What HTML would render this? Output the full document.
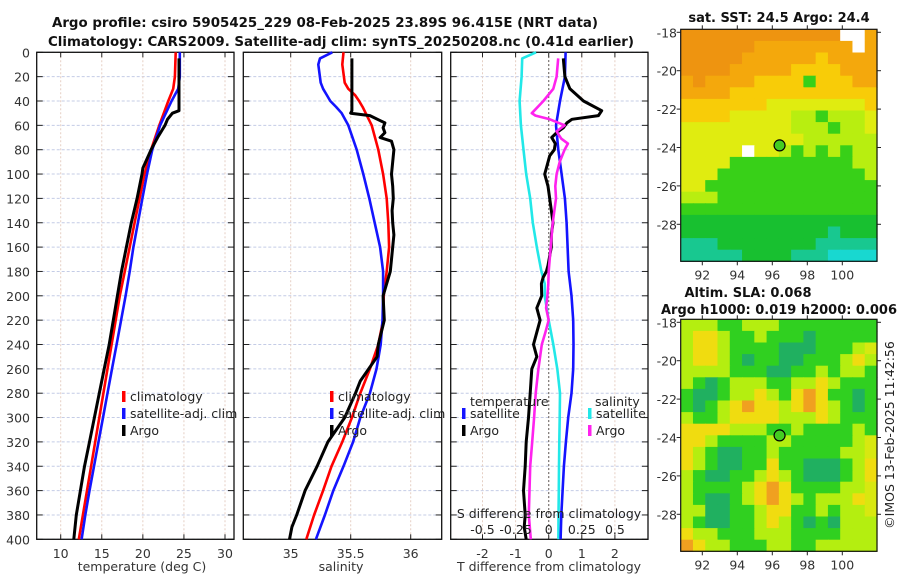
<!DOCTYPE html>
<html><head><meta charset="utf-8"><style>
html,body{margin:0;padding:0;background:#fff;}
svg{display:block;font-family:"DejaVu Sans","Liberation Sans",sans-serif;}
</style></head><body>
<svg id="fig" width="900" height="580" viewBox="0 0 900 580" xmlns="http://www.w3.org/2000/svg">
<g font-weight="bold" font-size="13" text-anchor="middle" fill="#111">
<text x="325" y="27" textLength="546" lengthAdjust="spacingAndGlyphs">Argo profile: csiro 5905425_229 08-Feb-2025 23.89S 96.415E (NRT data)</text>
<text x="341" y="46" textLength="586" lengthAdjust="spacingAndGlyphs">Climatology: CARS2009. Satellite-adj clim: synTS_20250208.nc (0.41d earlier)</text>
</g>
<g id="layer"></g>
</svg>
<script>
// ---------- DATA ----------
const depthTicks=[0,20,40,60,80,100,120,140,160,180,200,220,240,260,280,300,320,340,360,380,400];
const tTicks=[10,15,20,25,30];
const sTicks=[35,35.5,36];
const dTicks=[-2,-1,0,1,2];
const dTickLabels=['-2','-1','0','1','2'];
const sdTicks=[-0.5,-0.25,0,0.25,0.5];
const sdTickLabels=['-0.5','-0.25','0','0.25','0.5'];

const climDepth=[0,20,30,40,60,80,100,120,140,160,180,200,220,240,260,280,300,320,340,360,380,400];
const climTemp=[24.0,23.9,23.7,23.1,22.0,21.0,20.2,19.6,19.0,18.4,17.8,17.2,16.7,16.2,15.7,15.2,14.7,14.2,13.7,13.2,12.7,12.2];
const satTemp=[24.5,24.5,24.3,23.5,22.1,21.15,20.5,19.95,19.4,18.85,18.4,17.9,17.35,16.8,16.25,15.7,15.15,14.6,14.05,13.5,13.0,12.55];
const argoTDepth=[5,48,50,55,60,70,80,95,100,120,140,160,180,200,220,240,260,280,300,320,340,360,380,400];
const argoTemp=[24.4,24.4,23.6,23.0,22.7,21.8,21.0,20.0,19.9,19.3,18.6,18.0,17.4,16.9,16.4,15.9,15.3,14.7,14.1,13.5,12.9,12.4,11.9,11.6];

const salDepth=[0,5,10,25,30,35,40,45,50,60,80,100,120,140,160,180,200,220,240,260,280,300,320,340,360,380,400];
const climSal=[35.44,35.435,35.43,35.45,35.48,35.535,35.57,35.6,35.625,35.675,35.73,35.77,35.8,35.813,35.82,35.80,35.775,35.77,35.73,35.66,35.58,35.51,35.43,35.34,35.27,35.195,35.13];
const satSal=[35.347,35.244,35.23,35.25,35.27,35.30,35.33,35.38,35.425,35.48,35.55,35.605,35.655,35.70,35.745,35.77,35.77,35.765,35.75,35.715,35.66,35.58,35.52,35.44,35.355,35.285,35.21];
const argoSDepth=[5,48,50,52,58,62,66,70,73,80,90,100,110,120,130,140,150,160,170,180,190,200,220,240,250,260,270,280,300,320,340,360,380,390,400];
const argoSal=[35.51,35.51,35.50,35.66,35.785,35.77,35.785,35.745,35.84,35.86,35.85,35.84,35.85,35.855,35.845,35.85,35.86,35.85,35.84,35.83,35.80,35.77,35.78,35.73,35.72,35.65,35.58,35.54,35.45,35.31,35.22,35.12,35.05,35.01,34.99];

const tdSatDepth=[0,20,40,60,80,100,120,140,160,180,200,220,240,260,280,300,320,340,360,380,400];
const tdSat=[0.51,0.49,0.34,0.22,0.29,0.39,0.49,0.54,0.57,0.6,0.69,0.74,0.75,0.74,0.69,0.59,0.52,0.46,0.42,0.38,0.36];
const tdArgoDepth=[5,20,30,40,48,52,55,58,62,66,70,75,80,85,95,100,110,120,140,150,160,175,180,185,190,200,210,220,230,240,250,260,280,300,320,340,360,380,390,400];
const tdArgo=[0.44,0.49,0.64,1.05,1.6,1.5,0.7,0.55,0.44,0.24,0.09,0.2,0.17,0.03,-0.07,-0.12,-0.02,0.03,0.13,0.08,0.08,-0.02,-0.07,-0.17,-0.22,-0.21,-0.36,-0.26,-0.36,-0.46,-0.36,-0.51,-0.56,-0.61,-0.68,-0.71,-0.76,-0.71,-0.74,-0.68];
const sdSatDepth=[0,5,20,40,60,80,100,120,140,160,180,190,200,220,240,260,280,300,320,340,360,380,400];
const sdSat=[-0.095,-0.2,-0.205,-0.22,-0.21,-0.19,-0.17,-0.14,-0.12,-0.09,-0.055,-0.03,-0.03,0,0.035,0.065,0.085,0.083,0.08,0.078,0.076,0.074,0.073];
const sdArgoDepth=[5,20,30,40,50,52,55,60,65,71,75,80,90,100,110,120,140,160,180,190,200,210,220,230,240,260,280,300,320,340,360,380,400];
const sdArgo=[0.072,0.06,0.035,-0.04,-0.128,-0.1,0.008,0.12,0.06,0.095,0.145,0.12,0.083,0.06,0.05,0.055,0.03,0.015,0,-0.003,-0.01,-0.02,0,-0.025,-0.052,-0.078,-0.098,-0.11,-0.125,-0.14,-0.145,-0.15,-0.135];

const lonTicks=[92,94,96,98,100];
const latTicks=[-18,-20,-22,-24,-26,-28];
const argoLon=96.415, argoLat=-23.89;
const sstGrid=[
"OOOOOOOOOOOOOwwo","OOOOOOoooooooowo","OOOOOooooooyoooo","OOOOoooooyyyyooo",
"oOooooyyyygyyyoo","ooooyyyyyyyyyyyy","yyyyyyyYYYYYYYYy","yyyyYYYYYllglllY",
"YYYYYYYYYlllgllY","YYYYYYYYYYllllll","YYYYYwYYlglglgll","YYYYggggggggggll",
"YYYggggggggggggl","YYgggggggggggggg","lllggggggggggggg","gggggggggggggggg",
"GGGGGGGGGGGGGGGG","GGGGGGGGGGGGcGGG","cccGGGGGGGGccccc","cccccGGGGcccCCCC"];
const slaGrid=[
"lllgglllgggggggg","lyylgglgggTggggg","lyylggggTTTggglY","lyylgTggTTggglyl",
"llllgggTTgglgllg","lgTglllggllylggg","gTTgllylgyOyggTg","gTglyOyylyOylgTg",
"lgglyyyylllylggg","yyyylllgglgggglg","yylggggllggggglY","ylgTTgglgggggllY",
"ylgTTggyggTTTgly","lgTTgglylgTTTgly","lgggglyOyggggllY","lgTTglyOylglllyY",
"llTTgglyygglgllY","lgTTgglylgTgTlll","yllggglllgggglll","Oyllgggllgglllll"];

// ---------- HELPERS ----------
const NS='http://www.w3.org/2000/svg';
const layer=document.getElementById('layer');
function mk(tag,attrs,parent){const e=document.createElementNS(NS,tag);for(const k in attrs)e.setAttribute(k,attrs[k]);(parent||layer).appendChild(e);return e;}
const yTop=52.3, yPer=1.2175;
function yD(d){return yTop+d*yPer;}
const P1={l:36.7,r:234,x:v=>60.7+(v-10)*8.215};
const P2={l:243.3,r:441.7,x:v=>290.7+(v-35)*120};
const P3={l:450.7,r:648,x:v=>548.7+v*33.1};
function xS3(v){return P3.x(v*4);}
function linePath(xs,ds,fx){return xs.map((v,i)=>(i?'L':'M')+fx(v).toFixed(1)+','+yD(ds[i]).toFixed(1)).join(' ');}

function panel(P,name,ticks,tickLabels,fx){
  const g=mk('g',{});
  
  
  const b=yD(400);
  depthTicks.forEach(d=>{const l=mk('line',{x1:P.l,x2:P.r,y1:yD(d),y2:yD(d),stroke:'#c4cce6','stroke-width':1,'stroke-dasharray':'3,2'},g);
    
    });
  ticks.forEach((t,i)=>{const x=fx(t);
    const l=mk('line',{x1:x,x2:x,y1:yTop,y2:b,stroke:'#e6cfc4','stroke-width':1,'stroke-dasharray':'2,2'},g);
    
    
    const tx=mk('text',{x:x,y:558,'font-size':12.5,'text-anchor':'middle',fill:'#333'},g);tx.textContent=tickLabels[i];
    
    
    mk('line',{x1:x,x2:x,y1:b,y2:b-5,stroke:'#222'},g);mk('line',{x1:x,x2:x,y1:yTop,y2:yTop+5,stroke:'#222'},g);});
  depthTicks.forEach(d=>{mk('line',{x1:P.l,x2:P.l+6,y1:yD(d),y2:yD(d),stroke:'#222'},g);mk('line',{x1:P.r,x2:P.r-6,y1:yD(d),y2:yD(d),stroke:'#222'},g);});
  const fr=mk('rect',{x:P.l,y:yTop,width:P.r-P.l,height:b-yTop,fill:'none',stroke:'#111','stroke-width':1.3},g);
  
  
  return g;
}
function series(g,xs,ds,fx,col,name,w){
  const p=mk('path',{d:linePath(xs,ds,fx),fill:'none',stroke:col,'stroke-width':w||2.6,'stroke-linejoin':'round'},g);
  
  
}
function txt(g,x,y,s,str,name,extra){const t=mk('text',Object.assign({x:x,y:y,'font-size':s,fill:'#222'},extra||{}),g);t.textContent=str;
  
  return t;}
function legend(g,x,y,col,label,name){
  const r=mk('rect',{x:x-2,y:y-9,width:3.5,height:11,fill:col},g);
  
  
  txt(g,x+6,y+1,12.5,label,name);
}

// ---------- PANEL 1 ----------
const g1=panel(P1,'temperature-panel',tTicks,tTicks.map(String),P1.x);
depthTicks.forEach(d=>{txt(g1,30,yD(d)+5,12.5,String(d),'y-tick-label',{'text-anchor':'end',fill:'#333'});});
series(g1,climTemp,climDepth,P1.x,'#ff0000','temp-climatology-line');
series(g1,satTemp,climDepth,P1.x,'#1414ff','temp-satellite-line');
series(g1,argoTemp,argoTDepth,P1.x,'#000','temp-argo-line',3);
legend(g1,124,400,'#ff0000','climatology','legend-climatology');
legend(g1,124,417,'#1414ff','satellite-adj. clim','legend-satellite');
legend(g1,124,434,'#000','Argo','legend-argo');
txt(g1,142,571,12.5,'temperature (deg C)','x-axis-title-temperature',{'text-anchor':'middle',fill:'#333'});

// ---------- PANEL 2 ----------
const g2=panel(P2,'salinity-panel',sTicks,['35','35.5','36'],P2.x);
series(g2,climSal,salDepth,P2.x,'#ff0000','sal-climatology-line');
series(g2,satSal,salDepth,P2.x,'#1414ff','sal-satellite-line');
series(g2,argoSal,argoSDepth,P2.x,'#000','sal-argo-line',3);
legend(g2,332,400,'#ff0000','climatology','legend-climatology');
legend(g2,332,417,'#1414ff','satellite-adj. clim','legend-satellite');
legend(g2,332,434,'#000','Argo','legend-argo');
txt(g2,341,571,12.5,'salinity','x-axis-title-salinity',{'text-anchor':'middle',fill:'#333'});

// ---------- PANEL 3 ----------
const g3=panel(P3,'difference-panel',dTicks,dTickLabels,P3.x);
const z=mk('line',{x1:P3.x(0),x2:P3.x(0),y1:yTop,y2:yD(400),stroke:'#555','stroke-width':1.2,'stroke-dasharray':'1.5,2.5'},g3);


series(g3,sdSat,sdSatDepth,xS3,'#22e8e8','sal-diff-satellite-line');
series(g3,tdSat,tdSatDepth,P3.x,'#1414ff','temp-diff-satellite-line');
series(g3,tdArgo,tdArgoDepth,P3.x,'#000','temp-diff-argo-line',3);
series(g3,sdArgo,sdArgoDepth,xS3,'#ff22ee','sal-diff-argo-line');
txt(g3,470,406,12.5,'temperature','legend-temperature-heading');
legend(g3,464,417,'#1414ff','satellite','legend-temp-satellite');
legend(g3,464,434,'#000','Argo','legend-temp-argo');
txt(g3,595,406,12.5,'salinity','legend-salinity-heading');
legend(g3,590,417,'#22e8e8','satellite','legend-sal-satellite');
legend(g3,590,434,'#ff22ee','Argo','legend-sal-argo');
txt(g3,549,518,12.5,'S difference from climatology','s-axis-title',{'text-anchor':'middle'});
sdTicks.forEach((t,i)=>{txt(g3,xS3(t),534,12.5,sdTickLabels[i],'s-tick-label',{'text-anchor':'middle'});});
txt(g3,549,571,12.5,'T difference from climatology','x-axis-title-tdiff',{'text-anchor':'middle',fill:'#333'});

// ---------- MAPS ----------
const sstCol={O:'#ee9410',o:'#f4a80c',y:'#f8cc08',Y:'#e0ec10',l:'#b8ee10',g:'#38d018',G:'#18c030',c:'#18c890',C:'#18d8d0',w:'#ffffff'};
const slaCol={y:'#f0dc10',O:'#f0a020',l:'#b4ee10',g:'#30d020',T:'#20b060',Y:'#d8e810'};
const M={l:680.7,r:877,lonX:v=>702.3+(v-92)*17.5};
function mapAx(top,name,grid,cols){
  const g=mk('g',{});
  
  
  const latY=v=>top+3+(-18-v)*19.2;
  const bot=top+232, nr=grid.length, nc=grid[0].length;
  const cw=(M.r-M.l)/nc, ch=(bot-top)/nr;
  grid.forEach((row,ri)=>{for(let ci=0;ci<nc;ci++){
    const c=mk('rect',{x:(M.l+ci*cw).toFixed(2),y:(top+ri*ch).toFixed(2),width:(cw+0.6).toFixed(2),height:(ch+0.6).toFixed(2),fill:cols[row[ci]]||'#30d020'},g);
    
    }});
  const fr=mk('rect',{x:M.l,y:top,width:M.r-M.l,height:bot-top,fill:'none',stroke:'#111','stroke-width':1.2},g);
  
  
  latTicks.forEach(v=>{const y=latY(v);mk('line',{x1:M.l,x2:M.l-4,y1:y,y2:y,stroke:'#222'},g);mk('line',{x1:M.r,x2:M.r+4,y1:y,y2:y,stroke:'#222'},g);
    txt(g,677,y+5,12.5,String(v),'lat-tick-label',{'text-anchor':'end',fill:'#333'});});
  lonTicks.forEach(v=>{const x=M.lonX(v);mk('line',{x1:x,x2:x,y1:bot,y2:bot+4,stroke:'#222'},g);mk('line',{x1:x,x2:x,y1:top,y2:top-4,stroke:'#222'},g);
    txt(g,x,bot+18,12.5,String(v),'lon-tick-label',{'text-anchor':'middle',fill:'#333'});});
  const c=mk('circle',{cx:M.lonX(argoLon),cy:latY(argoLat),r:5.5,fill:'#44cc22',stroke:'#000','stroke-width':1.2},g);
  
  
  return g;
}
const gm1=mapAx(29.3,'sst-map',sstGrid,sstCol);
txt(gm1,779,22,13,'sat. SST: 24.5 Argo: 24.4','sst-map-title',{'text-anchor':'middle','font-weight':'bold',fill:'#111'});
const gm2=mapAx(319.3,'sla-map',slaGrid,slaCol);
txt(gm2,748,297,13,'Altim. SLA: 0.068','sla-map-title',{'text-anchor':'middle','font-weight':'bold',fill:'#111'});
txt(gm2,779,314,13,'Argo h1000: 0.019 h2000: 0.006','sla-map-subtitle',{'text-anchor':'middle','font-weight':'bold',fill:'#111',textLength:236,lengthAdjust:'spacingAndGlyphs'});
txt(gm2,894,435,12.5,'©IMOS 13-Feb-2025 11:42:56','copyright-label',{'text-anchor':'middle',transform:'rotate(-90 894 435)',fill:'#222'});
</script>
</body></html>
